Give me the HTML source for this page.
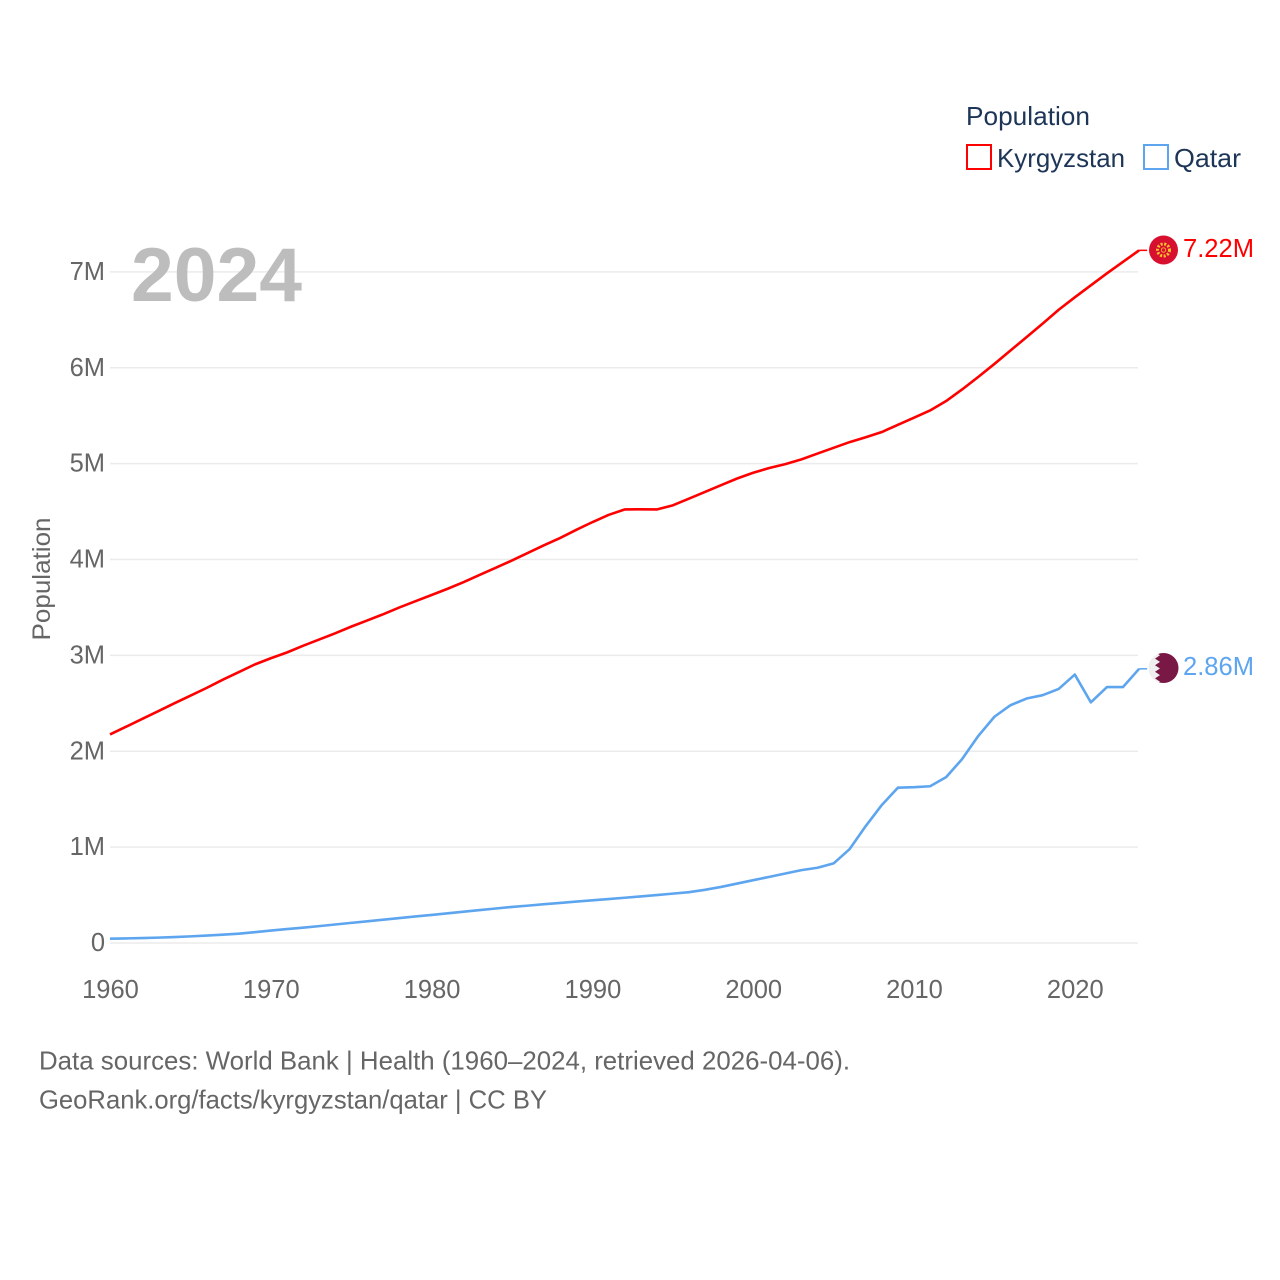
<!DOCTYPE html>
<html lang="en">
<head>
<meta charset="utf-8">
<title>Kyrgyzstan and Qatar population</title>
<style>
  html, body { margin: 0; padding: 0; background: #fff; }
  body { width: 1280px; height: 1280px; overflow: hidden; }
  svg { display: block; }
  text { font-family: "Liberation Sans", Arial, sans-serif; }
</style>
</head>
<body>
<svg id="chart" xmlns="http://www.w3.org/2000/svg" width="1280" height="1280" viewBox="0 0 1280 1280">
  <defs>
    <clipPath id="flag-clip-qa"><circle cx="1163.5" cy="668" r="15"></circle></clipPath>
  </defs>
  <rect width="1280" height="1280" fill="#fff"></rect>
  <g id="grid"></g>
  <g id="y-ticks"></g>
  <g id="x-ticks"></g>
  <text x="131" y="301" font-size="76" font-weight="700" fill="#bdbdbd" textLength="171" lengthAdjust="spacingAndGlyphs">2024</text>
  <text transform="translate(50 579) rotate(-90)" text-anchor="middle" font-size="25" fill="#666" textLength="123" lengthAdjust="spacingAndGlyphs">Population</text>
  <g id="series"></g>

  <g>
    <circle cx="1163.5" cy="250" r="14.5" fill="#d8102f"></circle>
    <circle cx="1163.5" cy="250" r="6" fill="none" stroke="#f5c32c" stroke-width="3" stroke-dasharray="2 1.6"></circle>
    <circle cx="1163.5" cy="250" r="2.2" fill="#d8102f" stroke="#f5c32c" stroke-width="0.8"></circle>
  </g>
  <g clip-path="url(#flag-clip-qa)">
    <rect x="1148" y="652" width="32" height="32" fill="#efefef"></rect>
    <polygon fill="#7a1845" points="1180,652 1155,652 1160,655.3 1155,658.6 1160,661.9 1155,665.2 1160,668.5 1155,671.8 1160,675.1 1155,678.4 1160,681.7 1155,684 1180,684"></polygon>
  </g>

  <text x="1183" y="257" font-size="25.5" fill="#ff0000" textLength="71" lengthAdjust="spacingAndGlyphs">7.22M</text>
  <text x="1183" y="675" font-size="25.5" fill="#5da5ee" textLength="71" lengthAdjust="spacingAndGlyphs">2.86M</text>

  <g>
    <text x="966" y="125" font-size="26" fill="#1d3557" textLength="124" lengthAdjust="spacingAndGlyphs">Population</text>
    <g>
      <rect x="967" y="145" width="24" height="24" fill="none" stroke="#ff0000" stroke-width="2"></rect>
      <text x="997" y="167" font-size="26" fill="#1d3557" textLength="128" lengthAdjust="spacingAndGlyphs">Kyrgyzstan</text>
    </g>
    <g>
      <rect x="1144" y="145" width="24" height="24" fill="none" stroke="#5da5ee" stroke-width="2"></rect>
      <text x="1174" y="167" font-size="26" fill="#1d3557" textLength="67" lengthAdjust="spacingAndGlyphs">Qatar</text>
    </g>
  </g>

  <text x="39" y="1069.5" font-size="26" fill="#666" textLength="811" lengthAdjust="spacingAndGlyphs">Data sources: World Bank | Health (1960–2024, retrieved 2026-04-06).</text>
  <text x="39" y="1108.5" font-size="26" fill="#666" textLength="508" lengthAdjust="spacingAndGlyphs">GeoRank.org/facts/kyrgyzstan/qatar | CC BY</text>
</svg>
<script>
const yTickValues = [0, 1, 2, 3, 4, 5, 6, 7];
const yTickLabels = ["0", "1M", "2M", "3M", "4M", "5M", "6M", "7M"];
const xTickYears = [1960, 1970, 1980, 1990, 2000, 2010, 2020];
const startYear = 1960;
const kyrgyzstanValues = [2.175, 2.256, 2.337, 2.418, 2.50, 2.58, 2.66, 2.745, 2.825, 2.905,
  2.97, 3.03, 3.10, 3.165, 3.23, 3.30, 3.365, 3.43, 3.50, 3.565,
  3.63, 3.695, 3.765, 3.84, 3.915, 3.99, 4.07, 4.15, 4.225, 4.31,
  4.39, 4.465, 4.522, 4.524, 4.522, 4.565, 4.635, 4.705, 4.775, 4.845,
  4.905, 4.955, 4.995, 5.045, 5.105, 5.165, 5.225, 5.275, 5.33, 5.405,
  5.48, 5.555, 5.653, 5.775, 5.905, 6.04, 6.18, 6.32, 6.46, 6.605,
  6.735, 6.86, 6.985, 7.105, 7.225];
const qatarValues = [0.045, 0.048, 0.051, 0.056, 0.062, 0.069, 0.078, 0.087, 0.097, 0.113,
  0.13, 0.145, 0.16, 0.176, 0.193, 0.21, 0.226, 0.243, 0.26, 0.277,
  0.293, 0.31, 0.327, 0.344, 0.36, 0.376, 0.39, 0.405, 0.418, 0.432,
  0.445, 0.458, 0.472, 0.486, 0.5, 0.515, 0.53, 0.555, 0.585, 0.62,
  0.655, 0.69, 0.725, 0.76, 0.785, 0.83, 0.98, 1.22, 1.44, 1.62,
  1.625, 1.635, 1.73, 1.92, 2.16, 2.36, 2.48, 2.55, 2.585, 2.65,
  2.80, 2.51, 2.67, 2.67, 2.86];

const NS = "http://www.w3.org/2000/svg";
const xScale = year => 110 + (year - startYear) * 16.08;
const yScale = value => 943 - value * 95.87;

function makeEl(tag, parent, attrs) {
  const el = document.createElementNS(NS, tag);
  for (const key in attrs) el.setAttribute(key, attrs[key]);
  parent.appendChild(el);
  return el;
}

const gridGroup = document.getElementById("grid");
const yTickGroup = document.getElementById("y-ticks");
yTickValues.forEach((value, i) => {
  const line = makeEl("line", gridGroup, {
    x1: 110, x2: 1138, y1: yScale(value), y2: yScale(value),
    stroke: "#ebebeb", "stroke-width": 1.5
  });
  
  
  const label = makeEl("text", yTickGroup, {
    x: 105, y: yScale(value) + 8, "text-anchor": "end", "font-size": 25.5, fill: "#666"
  });
  
  
  label.textContent = yTickLabels[i];
});

const xTickGroup = document.getElementById("x-ticks");
xTickYears.forEach(year => {
  const label = makeEl("text", xTickGroup, {
    x: xScale(year) + 0.5, y: 998, "text-anchor": "middle", "font-size": 25.5, fill: "#666"
  });
  
  
  label.textContent = year;
});

function drawSeries(values, color, name) {
  const seriesGroup = document.getElementById("series");
  const points = values.map((v, i) => xScale(startYear + i).toFixed(2) + "," + yScale(v).toFixed(2));
  const line = makeEl("polyline", seriesGroup, {
    points: points.join(" "), fill: "none", stroke: color, "stroke-width": 2.6, "stroke-linejoin": "round"
  });
  
  
  const last = values[values.length - 1];
  const lastX = xScale(startYear + values.length - 1);
  const leader = makeEl("line", seriesGroup, {
    x1: lastX, x2: lastX + 8, y1: yScale(last), y2: yScale(last), stroke: color, "stroke-width": 1.5
  });
  
  
}
drawSeries(kyrgyzstanValues, "#ff0000", "kyrgyzstan");
drawSeries(qatarValues, "#5da5ee", "qatar");
</script>
</body>
</html>
